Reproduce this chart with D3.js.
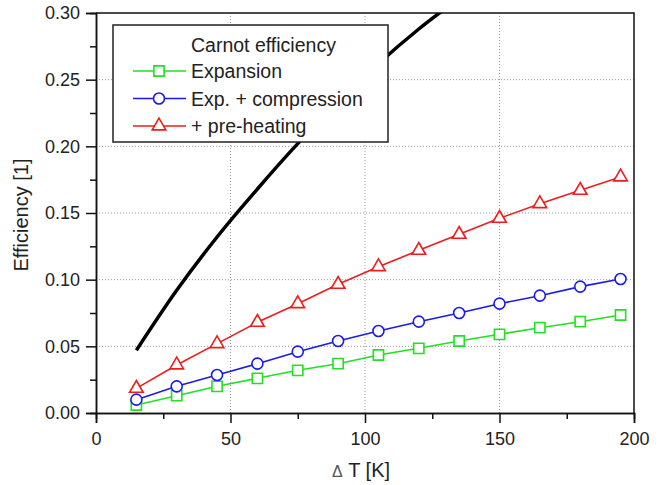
<!DOCTYPE html>
<html>
<head>
<meta charset="utf-8">
<script src="https://d3js.org/d3.v7.min.js"></script>
<style>
  body { margin: 0; background: #fff; }
  text { font-family: "Liberation Sans", Arial, sans-serif; fill: #222; }
</style>
</head>
<body>
<script>
// data (delta T in K, efficiency)
var deltaT = [15, 30, 45, 60, 75, 90, 105, 120, 135, 150, 165, 180, 195]
var carnot = [0.047, 0.092, 0.132, 0.168, 0.202, 0.233, 0.262, 0.288, 0.311]
var expansion = [0.006, 0.013, 0.020, 0.026, 0.032, 0.037, 0.0435, 0.0485, 0.054, 0.059, 0.064, 0.0685, 0.0735]
var compression = [0.010, 0.020, 0.0285, 0.037, 0.046, 0.054, 0.0615, 0.0685, 0.075, 0.082, 0.088, 0.0948, 0.1005]
var preheating = [0.0185, 0.036, 0.052, 0.068, 0.082, 0.0965, 0.1097, 0.122, 0.134, 0.146, 0.157, 0.167, 0.177]
var xTicks = [0, 50, 100, 150, 200]
var yTicks = [0, 0.05, 0.10, 0.15, 0.20, 0.25, 0.30]
var legendLabels = ["Carnot efficiency", "Expansion", "Exp. + compression", "+ pre-heating"]

var width = 660
    height = 485
var margin = {top: 13, right: 26, bottom: 72, left: 96}
var w = width - margin.left - margin.right
var h = height - margin.top - margin.bottom

var svg = d3.select("body")
  .append("svg")
    .attr("width", width)
    .attr("height", height)
var g = svg.append("g")
    .attr("transform", "translate(" + margin.left + "," + margin.top + ")")

var x = d3.scaleLinear().domain([0, 200]).range([0, w])
var y = d3.scaleLinear().domain([0, 0.30]).range([h, 0])

// dotted grid at the major ticks
g.selectAll(".vgrid")
  .data(xTicks.slice(1, -1))
  .enter().append("line")
    .attr("x1", function(d) { return x(d) }).attr("x2", function(d) { return x(d) })
    .attr("y1", 0).attr("y2", h)
    .attr("stroke", "#999").attr("stroke-width", 1).attr("stroke-dasharray", "1,2")
g.selectAll(".hgrid")
  .data(yTicks.slice(1, -1))
  .enter().append("line")
    .attr("x1", 0).attr("x2", w)
    .attr("y1", function(d) { return y(d) }).attr("y2", function(d) { return y(d) })
    .attr("stroke", "#999").attr("stroke-width", 1).attr("stroke-dasharray", "1,2")

// axes: major ticks with labels, minor ticks in between
g.append("g")
  .attr("transform", "translate(0," + h + ")")
  .call(d3.axisBottom(x).tickValues(xTicks).tickSize(10).tickPadding(9).tickFormat(d3.format("d")))
g.append("g")
  .attr("transform", "translate(0," + h + ")")
  .call(d3.axisBottom(x).tickValues([25, 75, 125, 175]).tickSize(6).tickFormat(""))
g.append("g")
  .call(d3.axisLeft(y).tickValues(yTicks).tickSize(10).tickPadding(6).tickFormat(d3.format(".2f")))
g.append("g")
  .call(d3.axisLeft(y).tickValues([0.025, 0.075, 0.125, 0.175, 0.225, 0.275]).tickSize(6).tickFormat(""))
g.selectAll(".domain").attr("stroke", "#111").attr("stroke-width", 1.5)
g.selectAll(".tick line").attr("stroke", "#111").attr("stroke-width", 1.5)
g.selectAll(".tick text").style("font-size", "18px").attr("fill", "#222")

// top and right frame
g.append("path")
  .attr("d", "M0,0H" + w + "V" + h)
  .attr("fill", "none").attr("stroke", "#111").attr("stroke-width", 1.5)

// axis titles
var xTitle = g.append("text")
  .attr("x", w / 2 - 4).attr("y", h + 64)
  .attr("text-anchor", "middle")
  .style("font-size", "20px")
xTitle.append("tspan").style("font-size", "16px").attr("fill", "#555").text("\u0394")
xTitle.append("tspan").text(" T [K]")
g.append("text")
  .attr("transform", "translate(-68," + (h / 2 + 2) + ") rotate(-90)")
  .attr("text-anchor", "middle")
  .style("font-size", "20px")
  .text("Efficiency [1]")

// clip so the carnot curve stops at the top frame
svg.append("defs").append("clipPath").attr("id", "plotclip")
  .append("rect").attr("width", w).attr("height", h)

var line = d3.line()
  .x(function(d) { return x(d[0]) })
  .y(function(d) { return y(d[1]) })

// carnot curve drawn smooth like the original
g.append("path")
  .datum(d3.zip(deltaT, carnot))
  .attr("clip-path", "url(#plotclip)")
  .attr("d", line.curve(d3.curveMonotoneX))
  .attr("fill", "none").attr("stroke", "#000").attr("stroke-width", 3.5)
line.curve(d3.curveLinear)

var series = [
  {name: legendLabels[1], values: expansion, color: "#22e022", symbol: d3.symbolSquare, size: 105},
  {name: legendLabels[2], values: compression, color: "#1a1aee", symbol: d3.symbolCircle, size: 95},
  {name: legendLabels[3], values: preheating, color: "#ee1c1c", symbol: d3.symbolTriangle, size: 80}
]

series.forEach(function(s) {
  var pts = d3.zip(deltaT, s.values)
  g.append("path")
    .datum(pts)
    .attr("d", line)
    .attr("fill", "none").attr("stroke", s.color).attr("stroke-width", 1.6)
  g.selectAll(null)
    .data(pts)
    .enter().append("path")
      .attr("transform", function(d) { return "translate(" + x(d[0]) + "," + y(d[1]) + ")" })
      .attr("d", d3.symbol().type(s.symbol).size(s.size))
      .attr("fill", "#fff").attr("stroke", s.color).attr("stroke-width", 1.6)
})

// legend box
var legend = svg.append("g").attr("transform", "translate(113,25)")
legend.append("rect")
  .attr("width", 275).attr("height", 117)
  .attr("fill", "#fff").attr("stroke", "#222").attr("stroke-width", 1.5)
legend.append("text")
  .attr("x", 78).attr("y", 26.5)
  .style("font-size", "19.5px")
  .text(legendLabels[0])
series.forEach(function(s, i) {
  var ly = 46 + i * 27.5
  legend.append("line")
    .attr("x1", 20).attr("x2", 73).attr("y1", ly).attr("y2", ly)
    .attr("stroke", s.color).attr("stroke-width", 1.6)
  legend.append("path")
    .attr("transform", "translate(46," + ly + ")")
    .attr("d", d3.symbol().type(s.symbol).size(s.size))
    .attr("fill", "#fff").attr("stroke", s.color).attr("stroke-width", 1.6)
  legend.append("text")
    .attr("x", 78).attr("y", ly + 7)
    .style("font-size", "19.5px")
    .text(s.name)
})
</script>
</body>
</html>
